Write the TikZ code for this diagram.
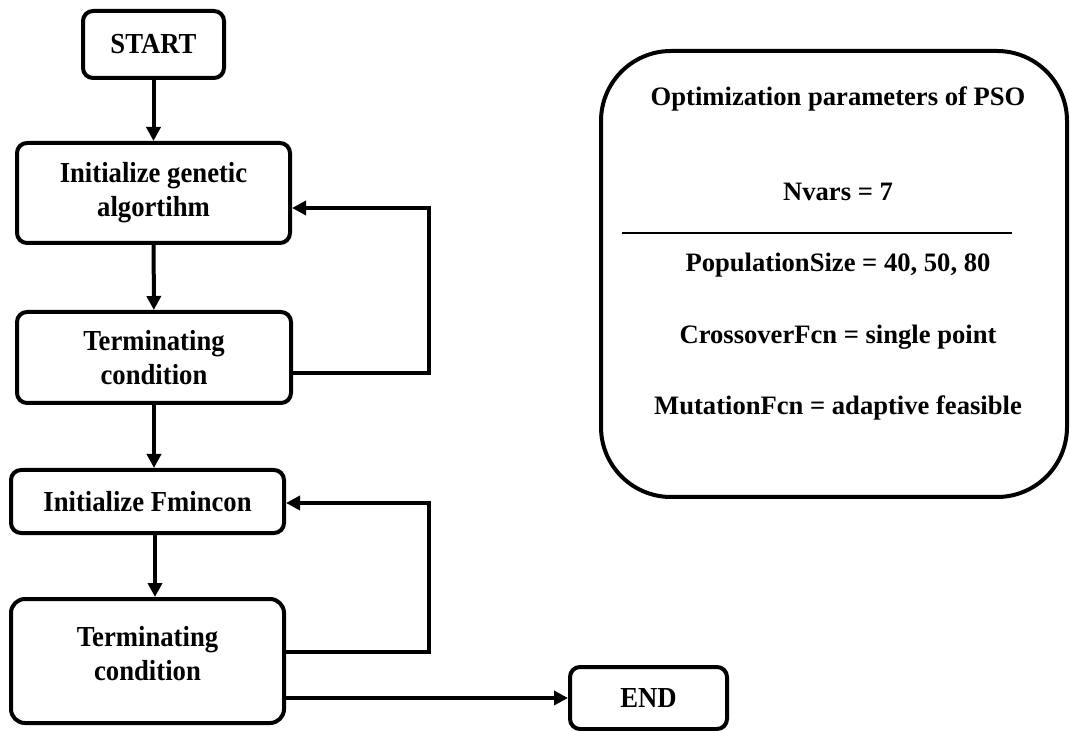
\documentclass[tikz,border=0pt]{standalone}
\usepackage{fontspec}
\setmainfont{Liberation Serif}
\newfontfamily\condserif[FakeStretch=0.92]{Liberation Serif}
\usetikzlibrary{arrows.meta}

\begin{document}
\begin{tikzpicture}[x=0.5pt, y=-0.5pt, line width=2pt,
block/.style={draw, rounded corners=5pt, align=center, inner sep=0pt, font=\condserif\bfseries\fontsize{14.5}{17}\selectfont},
flow/.style={-{Triangle[length=7pt,width=7pt]}},
param/.style={font=\bfseries\fontsize{13.3}{15}\selectfont}]
\useasboundingbox (0,0) rectangle (1070,731);
\node[block, minimum width=70.5pt, minimum height=33.5pt] (start) at (153.5,44.5) {START};
\node[block, minimum width=136.5pt, minimum height=50pt] (initga) at (153.5,193) {Initialize genetic\\algortihm};
\node[block, minimum width=137pt, minimum height=45.5pt] (term1) at (154,357.5) {Terminating\\condition};
\node[block, minimum width=136.5pt, minimum height=31.5pt] (fmin) at (147.5,501.5) {Initialize Fmincon};
\node[block, minimum width=136.5pt, minimum height=62pt, rounded corners=7pt] (term2) at (147.5,661) {Terminating\\condition\\[-9pt]};
\node[block, minimum width=78.5pt, minimum height=31pt] (endn) at (648.5,698) {END};
\node[draw, rounded corners=35pt, minimum width=233pt, minimum height=223pt] (pso) at (834,274) {};
\node[param] (ptitle) at (838,99) {Optimization parameters of PSO};
\node[param] (pnvars) at (838,192) {Nvars = 7};
\node[param] (ppop) at (838,265) {PopulationSize = 40, 50, 80};
\node[param] (pcross) at (838,337) {CrossoverFcn = single point};
\node[param] (pmut) at (838,408) {MutationFcn = adaptive feasible};
\draw[line width=0.75pt] (622,233) -- (1012,233);
\coordinate (r1a) at (429,373);
\coordinate (r1b) at (429,208);
\coordinate (r2a) at (429,652);
\coordinate (r2b) at (429,503);
\draw[flow] (start) -- (initga);
\draw[flow] (initga) -- (term1);
\draw[flow] (term1.south) -- (term1.south |- fmin.north);
\draw[flow] (fmin.south -| 155,0) -- (term2.north -| 155,0);
\draw[flow] (term1.east |- r1a) -- (r1a) -- (r1b) -- (initga.east |- r1b);
\draw[flow] (term2.east |- r2a) -- (r2a) -- (r2b) -- (fmin.east |- r2b);
\draw[flow] (term2.east |- endn) -- (endn.west);
\end{tikzpicture}
\end{document}
